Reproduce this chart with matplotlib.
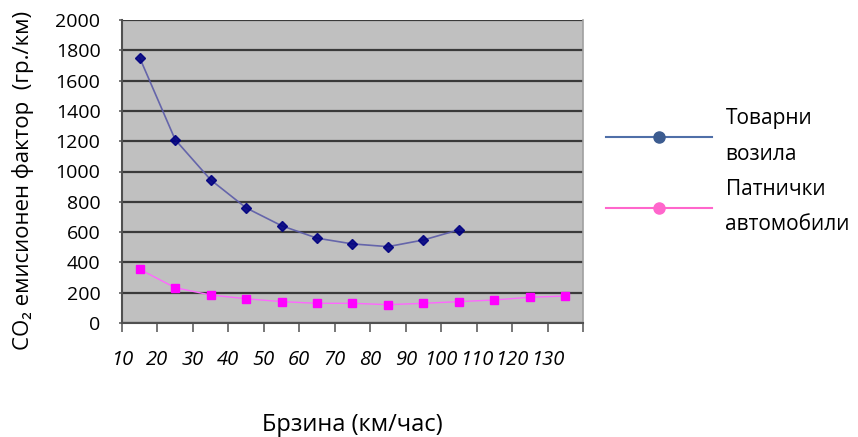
import matplotlib
matplotlib.use("Agg")
import matplotlib.pyplot as plt
from matplotlib.lines import Line2D

plt.rcParams['font.family'] = ['Open Sans', 'DejaVu Sans']

# Speed classes (km/h) – each point sits in the middle of its 10 km/h band
speed_trucks = [15, 25, 35, 45, 55, 65, 75, 85, 95, 105]
speed_cars = [15, 25, 35, 45, 55, 65, 75, 85, 95, 105, 115, 125, 135]

# CO2 emission factor (g/km)
co2_trucks = [1750, 1210, 945, 760, 642, 560, 522, 504, 548, 615]
co2_cars = [354, 233, 185, 160, 141, 130, 130, 121, 130, 141, 152, 170, 178]

x_ticks = [10, 20, 30, 40, 50, 60, 70, 80, 90, 100, 110, 120, 130]
y_ticks = [0, 200, 400, 600, 800, 1000, 1200, 1400, 1600, 1800, 2000]

series_names = ["Товарни\nвозила", "Патнички\nавтомобили"]

W, H = 858, 437
fig = plt.figure(figsize=(W / 100, H / 100), dpi=100)
ax = fig.add_axes([122 / W, 1 - 323 / H, 461 / W, 303 / H])

ax.set_facecolor('#c0c0c0')
ax.set_xlim(10, 140)
ax.set_ylim(0, 2000)

# horizontal gridlines
ax.set_yticks(y_ticks)
ax.yaxis.grid(True, color='#3a3a3a', linewidth=1.6)
ax.set_axisbelow(True)

ax.plot(speed_trucks, co2_trucks, color='#5b5ba8', linewidth=1.2, alpha=0.9,
        marker='D', markersize=5, markerfacecolor='#000080',
        markeredgecolor='#000080', zorder=3)
ax.plot(speed_cars, co2_cars, color='#ff66ff', linewidth=1.0,
        marker='s', markersize=6, markerfacecolor='#ff00ff',
        markeredgecolor='#ff00ff', zorder=3)

# x axis: labelled band edges, plus the closing tick at the right edge
ax.set_xticks(x_ticks + [140])
ax.set_xticklabels([str(v) for v in x_ticks] + [''],
                   fontsize=14.5, fontstyle='italic')
ax.tick_params(axis='x', direction='out', length=6.5, width=1.2,
               color='#606060', pad=13)
ax.tick_params(axis='y', direction='out', length=2, width=1.2,
               color='#606060', pad=13.5, labelsize=14)
ax.set_yticklabels([str(v) for v in y_ticks])

for side in ('left', 'bottom'):
    ax.spines[side].set_color('#505050')
    ax.spines[side].set_linewidth(1.5)
ax.spines['top'].set_visible(False)
ax.spines['right'].set_color('#a0a0a0')
ax.spines['right'].set_linewidth(1.2)

ax.set_ylabel('CO₂ емисионен фактор  (гр./км)', fontsize=16)
ax.yaxis.set_label_coords((23 - 122) / 461, (323 - 180) / 303)
ax.set_xlabel('Брзина (км/час)', fontsize=17)
ax.xaxis.set_label_coords(0.5, (323 - 425) / 303)
ax.xaxis.label.set_va('center')
ax.yaxis.label.set_va('center')

handles = [
    Line2D([], [], color='#4f6fa8', linewidth=1.5, marker='o', markersize=8,
           markerfacecolor='#3c5c90', markeredgecolor='#3c5c90'),
    Line2D([], [], color='#ff66cc', linewidth=1.5, marker='o', markersize=8,
           markerfacecolor='#ff66cc', markeredgecolor='#ff66cc'),
]
leg = fig.legend(handles, series_names, loc='upper left',
                 bbox_to_anchor=(598 / W, 1 - 100 / H), frameon=False,
                 fontsize=15, handlelength=5.05, handletextpad=0.67,
                 labelspacing=0.7, borderaxespad=0)
for t in leg.get_texts():
    t.set_linespacing(1.89)

fig.savefig('out.png', dpi=100)
